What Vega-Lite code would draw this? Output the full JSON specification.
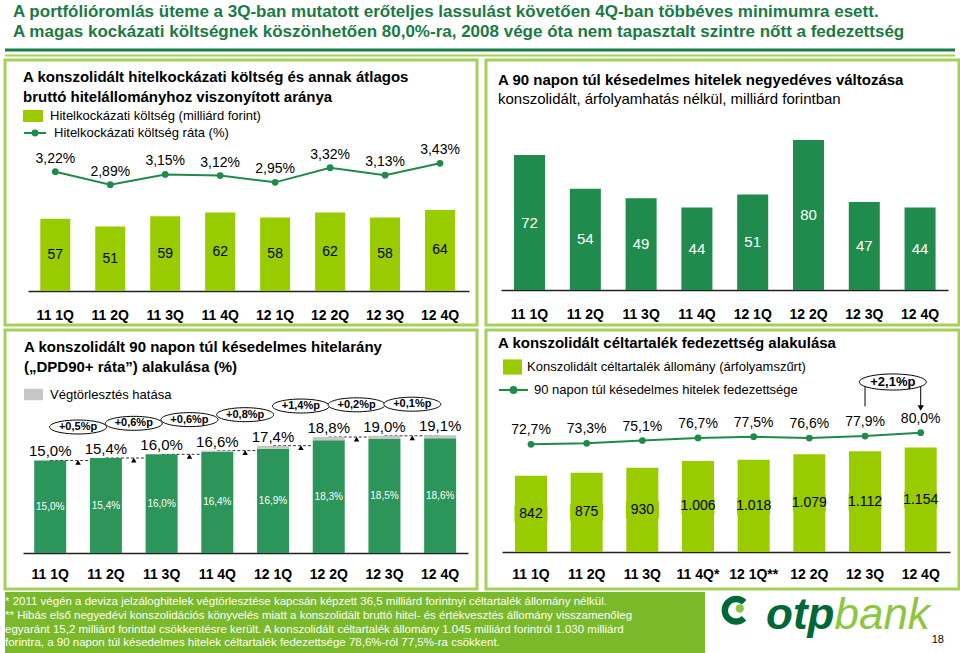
{
  "$schema": "https://vega.github.io/schema/vega-lite/v6.json",
  "padding": {"left": 3, "top": 0, "right": 2, "bottom": 0},
  "background": "white",
  "config": {
    "locale": {"number": {"decimal": ",", "thousands": ".", "grouping": [3], "currency": ["", "%"]}},
    "view": {"stroke": "#a5d05a", "strokeWidth": 3},
    "font": "Liberation Sans",
    "legend": {"padding": 0, "labelFont": "Liberation Sans", "labelColor": "#000", "labelLimit": 0, "title": null},
    "axis": {"labelFont": "Liberation Sans"}
  },
  "spacing": 1,
  "resolve": {"scale": {"color": "independent", "stroke": "independent"}, "legend": {"color": "independent", "stroke": "independent"}},
  "vconcat": [
    {
      "width": 950, "height": 57,
      "view": {"stroke": null},
      "title": {"text": ["A portfólióromlás üteme a 3Q-ban mutatott erőteljes lassulást követően 4Q-ban többéves minimumra esett.", "A magas kockázati költségnek köszönhetően 80,0%-ra, 2008 vége óta nem tapasztalt szintre nőtt a fedezettség"], "anchor": "start", "frame": "group", "offset": -41, "dx": 8, "font": "Liberation Sans", "fontSize": 17, "fontWeight": "bold", "color": "#1a7a45", "lineHeight": 20},
      "data": {"values": [{"k": 1}]},
      "layer": [
        {"mark": {"type": "rule", "color": "#1b7c4b", "strokeWidth": 3}, "encoding": {"y": {"datum": 50, "type": "quantitative", "scale": {"domain": [0, 57], "range": [0, 57], "nice": false, "zero": false}, "axis": null}}},
        {"mark": {"type": "rule", "color": "#a6d34f", "strokeWidth": 2}, "encoding": {"y": {"datum": 55.5, "type": "quantitative", "scale": {"domain": [0, 57], "range": [0, 57], "nice": false, "zero": false}, "axis": null}}}
      ]
    },
    {
      "hconcat": [
        {
          "width": 472, "height": 265,
          "title": {"text": ["A konszolidált hitelkockázati költség és annak átlagos", "bruttó hitelállományhoz viszonyított aránya"], "anchor": "start", "frame": "group", "offset": -44.5, "dx": 18, "fontSize": 15, "fontWeight": "bold", "color": "#000", "lineHeight": 20, "font": "Liberation Sans"},
          "data": {"values": [
            {"q": "11 1Q", "cost": 57, "rate": 3.22},
            {"q": "11 2Q", "cost": 51, "rate": 2.89},
            {"q": "11 3Q", "cost": 59, "rate": 3.15},
            {"q": "11 4Q", "cost": 62, "rate": 3.12},
            {"q": "12 1Q", "cost": 58, "rate": 2.95},
            {"q": "12 2Q", "cost": 62, "rate": 3.32},
            {"q": "12 3Q", "cost": 58, "rate": 3.13},
            {"q": "12 4Q", "cost": 64, "rate": 3.43}
          ]},
          "encoding": {"x": {"field": "q", "type": "nominal", "scale": {"domain": ["11 1Q", "11 2Q", "11 3Q", "11 4Q", "12 1Q", "12 2Q", "12 3Q", "12 4Q"], "range": [23, 464], "paddingInner": 0.454, "paddingOuter": 0.239, "align": 0.468}, "axis": {"title": null, "orient": "bottom", "offset": -34, "domain": true, "domainColor": "#222", "domainWidth": 1.5, "ticks": false, "grid": false, "labelAngle": 0, "labelFontSize": 14, "labelFontWeight": "bold", "labelColor": "#000", "labelPadding": 17}}},
          "layer": [
            {"mark": {"type": "bar"}, "encoding": {
              "y": {"field": "cost", "type": "quantitative", "scale": {"domain": [-26.9, 182.6], "nice": false, "zero": false}, "axis": null},
              "y2": {"datum": 0},
              "color": {"datum": "Hitelkockázati költség (milliárd forint)", "scale": {"range": ["#99cc00"]}, "legend": {"orient": "none", "legendX": 18, "legendY": 46, "symbolType": "M-1,-0.6H1V0.6H-1Z", "symbolSize": 400, "symbolStrokeWidth": 0, "labelFontSize": 13, "labelOffset": 7}}}},
            {"mark": {"type": "text", "baseline": "middle", "fontSize": 14, "color": "#000"}, "encoding": {
              "y": {"field": "cost", "type": "quantitative", "scale": {"domain": [-53.8, 365.2], "nice": false, "zero": false}, "axis": null},
              "text": {"field": "cost", "type": "quantitative", "format": "d"}}},
            {"mark": {"type": "line", "strokeWidth": 2}, "encoding": {
              "y": {"field": "rate", "type": "quantitative", "scale": {"domain": [-0.653, 6.04], "nice": false, "zero": false}, "axis": null},
              "stroke": {"datum": "Hitelkockázati költség ráta (%)", "scale": {"range": ["#208a4a"]}, "legend": {"orient": "none", "legendX": 18, "legendY": 61, "symbolType": "M-1,0H1M-0.22,0A0.22,0.22,0,1,1,0.22,0A0.22,0.22,0,1,1,-0.22,0Z", "symbolSize": 484, "symbolStrokeWidth": 2, "symbolFillColor": "#208a4a", "labelFontSize": 13, "labelOffset": 7, "encode": {"symbols": {"update": {"fill": {"value": "#208a4a"}}}}}}}},
            {"mark": {"type": "point", "filled": true, "color": "#208a4a", "size": 45, "opacity": 1}, "encoding": {
              "y": {"field": "rate", "type": "quantitative", "scale": {"domain": [-0.653, 6.04], "nice": false, "zero": false}, "axis": null}}},
            {"mark": {"type": "text", "baseline": "alphabetic", "dy": -9, "fontSize": 14, "color": "#000"}, "encoding": {
              "y": {"field": "rate", "type": "quantitative", "scale": {"domain": [-0.653, 6.04], "nice": false, "zero": false}, "axis": null},
              "text": {"field": "rate", "type": "quantitative", "format": "$.2f"}}}
          ],
          "resolve": {"scale": {"y": "independent"}}
        },
        {
          "width": 473, "height": 265,
          "title": {"text": "A 90 napon túl késedelmes hitelek negyedéves változása", "subtitle": "konszolidált, árfolyamhatás nélkül, milliárd forintban", "anchor": "start", "frame": "group", "offset": -46.5, "dx": 12, "fontSize": 15, "fontWeight": "bold", "color": "#000", "font": "Liberation Sans", "subtitleFont": "Liberation Sans", "subtitleFontSize": 15, "subtitleColor": "#000", "subtitleFontWeight": "normal", "subtitlePadding": 4},
          "data": {"values": [
            {"q": "11 1Q", "npl": 72},
            {"q": "11 2Q", "npl": 54},
            {"q": "11 3Q", "npl": 49},
            {"q": "11 4Q", "npl": 44},
            {"q": "12 1Q", "npl": 51},
            {"q": "12 2Q", "npl": 80},
            {"q": "12 3Q", "npl": 47},
            {"q": "12 4Q", "npl": 44}
          ]},
          "encoding": {"x": {"field": "q", "type": "nominal", "scale": {"domain": ["11 1Q", "11 2Q", "11 3Q", "11 4Q", "12 1Q", "12 2Q", "12 3Q", "12 4Q"], "range": [15, 462], "paddingInner": 0.444, "paddingOuter": 0.228, "align": 0.512}, "axis": {"title": null, "orient": "bottom", "offset": -35, "domain": true, "domainColor": "#222", "domainWidth": 1.5, "ticks": false, "grid": false, "labelAngle": 0, "labelFontSize": 14, "labelFontWeight": "bold", "labelColor": "#000", "labelPadding": 17}}},
          "layer": [
            {"mark": {"type": "bar", "color": "#1f8b4c"}, "encoding": {
              "y": {"field": "npl", "type": "quantitative", "scale": {"domain": [-18.67, 122.7], "nice": false, "zero": false}, "axis": null},
              "y2": {"datum": 0}}},
            {"mark": {"type": "text", "baseline": "middle", "fontSize": 15, "color": "#ffffff"}, "encoding": {
              "y": {"field": "npl", "type": "quantitative", "scale": {"domain": [-37.33, 245.4], "nice": false, "zero": false}, "axis": null},
              "text": {"field": "npl", "type": "quantitative", "format": "d"}}}
          ],
          "resolve": {"scale": {"y": "independent"}}
        }
      ],
      "spacing": 5,
      "resolve": {"scale": {"color": "independent", "stroke": "independent"}, "legend": {"color": "independent", "stroke": "independent"}}
    },
    {
      "hconcat": [
        {
          "width": 472, "height": 259,
          "title": {"text": ["A konszolidált 90 napon túl késedelmes hitelarány", "(„DPD90+ ráta”) alakulása (%)"], "anchor": "start", "frame": "group", "offset": -44.5, "dx": 19, "fontSize": 15, "fontWeight": "bold", "color": "#000", "lineHeight": 20, "font": "Liberation Sans"},
          "encoding": {"x": {"field": "q", "type": "nominal", "scale": {"domain": ["11 1Q", "11 2Q", "11 3Q", "11 4Q", "12 1Q", "12 2Q", "12 3Q", "12 4Q"], "range": [18, 463], "paddingInner": 0.4256, "paddingOuter": 0.207, "align": 0.486}, "axis": {"title": null, "orient": "bottom", "offset": -36, "domain": true, "domainColor": "#222", "domainWidth": 1.5, "ticks": false, "grid": false, "labelAngle": 0, "labelFontSize": 14, "labelFontWeight": "bold", "labelColor": "#000", "labelPadding": 14}}},
          "layer": [
            {"data": {"name": "links", "values": [
              {"q": "11 1Q", "q2": "11 2Q", "prev": 15.0, "next": 15.4, "label": "+0,5%p"},
              {"q": "11 2Q", "q2": "11 3Q", "prev": 15.4, "next": 16.0, "label": "+0,6%p"},
              {"q": "11 3Q", "q2": "11 4Q", "prev": 16.0, "next": 16.6, "label": "+0,6%p"},
              {"q": "11 4Q", "q2": "12 1Q", "prev": 16.6, "next": 17.4, "label": "+0,8%p"},
              {"q": "12 1Q", "q2": "12 2Q", "prev": 17.4, "next": 18.8, "label": "+1,4%p"},
              {"q": "12 2Q", "q2": "12 3Q", "prev": 18.8, "next": 19.0, "label": "+0,2%p"},
              {"q": "12 3Q", "q2": "12 4Q", "prev": 19.0, "next": 19.1, "label": "+0,1%p"}
            ]},
             "mark": {"type": "rule", "color": "#333", "strokeWidth": 1, "strokeDash": [3, 2]}, "encoding": {
              "x2": {"field": "q2"},
              "y": {"field": "prev", "type": "quantitative", "scale": {"domain": [-5.83, 36.15], "nice": false, "zero": false}, "axis": null}}},
            {"data": {"name": "bars", "values": [
              {"q": "11 1Q", "base": 15.0, "total": 15.0},
              {"q": "11 2Q", "base": 15.4, "total": 15.4},
              {"q": "11 3Q", "base": 16.0, "total": 16.0},
              {"q": "11 4Q", "base": 16.4, "total": 16.6},
              {"q": "12 1Q", "base": 16.9, "total": 17.4},
              {"q": "12 2Q", "base": 18.3, "total": 18.8},
              {"q": "12 3Q", "base": 18.5, "total": 19.0},
              {"q": "12 4Q", "base": 18.6, "total": 19.1}
            ]},
             "mark": {"type": "bar", "color": "#2c955a"}, "encoding": {
              "y": {"field": "base", "type": "quantitative", "scale": {"domain": [-5.83, 36.15], "nice": false, "zero": false}, "axis": null},
              "y2": {"datum": 0}}},
            {"data": {"name": "bars"}, "mark": {"type": "bar"}, "encoding": {
              "y": {"field": "total", "type": "quantitative", "scale": {"domain": [-5.83, 36.15], "nice": false, "zero": false}, "axis": null},
              "y2": {"field": "base"},
              "color": {"datum": "Végtörlesztés hatása", "scale": {"range": ["#c6c6c6"]}, "legend": {"orient": "none", "legendX": 19, "legendY": 55, "symbolType": "M-1,-0.6H1V0.6H-1Z", "symbolSize": 361, "symbolStrokeWidth": 0, "labelFontSize": 13, "labelOffset": 7}}}},
            {"data": {"name": "bars"}, "mark": {"type": "text", "baseline": "middle", "fontSize": 10, "color": "#ffffff"}, "encoding": {
              "y": {"field": "base", "type": "quantitative", "scale": {"domain": [-11.66, 72.3], "nice": false, "zero": false}, "axis": null},
              "text": {"field": "base", "type": "quantitative", "format": "$.1f"}}},
            {"data": {"name": "bars"}, "mark": {"type": "text", "baseline": "alphabetic", "dy": -4, "fontSize": 15, "color": "#000"}, "encoding": {
              "y": {"field": "total", "type": "quantitative", "scale": {"domain": [-5.83, 36.15], "nice": false, "zero": false}, "axis": null},
              "text": {"field": "total", "type": "quantitative", "format": "$.1f"}}},
            {"data": {"name": "links"}, "mark": {"type": "point", "shape": "triangle-up", "filled": true, "color": "#000", "size": 30, "opacity": 1, "xOffset": 27.85, "yOffset": 2}, "encoding": {
              "y": {"field": "prev", "type": "quantitative", "scale": {"domain": [-5.83, 36.15], "nice": false, "zero": false}, "axis": null}}},
            {"data": {"name": "links"}, "mark": {"type": "point", "shape": "M-1,0A1,0.245,0,1,0,1,0A1,0.245,0,1,0,-1,0Z", "filled": true, "fill": "#fff", "stroke": "#000", "strokeWidth": 1, "size": 3249, "opacity": 1, "xOffset": 27.85, "yOffset": -31}, "encoding": {
              "y": {"field": "next", "type": "quantitative", "scale": {"domain": [-5.83, 36.15], "nice": false, "zero": false}, "axis": null}}},
            {"data": {"name": "links"}, "mark": {"type": "text", "baseline": "middle", "fontSize": 11, "fontWeight": "bold", "color": "#000", "xOffset": 27.85, "yOffset": -31}, "encoding": {
              "y": {"field": "next", "type": "quantitative", "scale": {"domain": [-5.83, 36.15], "nice": false, "zero": false}, "axis": null},
              "text": {"field": "label"}}}
          ],
          "resolve": {"scale": {"y": "independent"}}
        },
        {
          "width": 473, "height": 259,
          "title": {"text": "A konszolidált céltartalék fedezettség alakulása", "anchor": "start", "frame": "group", "offset": -20.5, "dx": 12, "fontSize": 15, "fontWeight": "bold", "color": "#000", "font": "Liberation Sans"},
          "encoding": {"x": {"field": "q", "type": "nominal", "scale": {"domain": ["11 1Q", "11 2Q", "11 3Q", "11 4Q*", "12 1Q**", "12 2Q", "12 3Q", "12 4Q"], "range": [16, 464], "paddingInner": 0.425, "paddingOuter": 0.236, "align": 0.494}, "axis": {"title": null, "orient": "bottom", "offset": -37, "domain": true, "domainColor": "#222", "domainWidth": 1.5, "ticks": false, "grid": false, "labelAngle": 0, "labelFontSize": 14, "labelFontWeight": "bold", "labelColor": "#000", "labelPadding": 15}}},
          "layer": [
            {"data": {"name": "cov", "values": [
              {"q": "11 1Q", "prov": 842, "cov": 72.7},
              {"q": "11 2Q", "prov": 875, "cov": 73.3},
              {"q": "11 3Q", "prov": 930, "cov": 75.1},
              {"q": "11 4Q*", "prov": 1006, "cov": 76.7},
              {"q": "12 1Q**", "prov": 1018, "cov": 77.5},
              {"q": "12 2Q", "prov": 1079, "cov": 76.6},
              {"q": "12 3Q", "prov": 1112, "cov": 77.9},
              {"q": "12 4Q", "prov": 1154, "cov": 80.0}
            ]},
             "mark": {"type": "bar"}, "encoding": {
              "y": {"field": "prov", "type": "quantitative", "scale": {"domain": [-409, 2453], "nice": false, "zero": false}, "axis": null},
              "y2": {"datum": 0},
              "color": {"datum": "Konszolidált céltartalék állomány (árfolyamszűrt)", "scale": {"range": ["#99cc00"]}, "legend": {"orient": "none", "legendX": 17, "legendY": 27.5, "symbolType": "M-1,-0.8H1V0.8H-1Z", "symbolSize": 361, "symbolStrokeWidth": 0, "labelFontSize": 13, "labelOffset": 5}}}},
            {"data": {"name": "cov"}, "mark": {"type": "point", "shape": "M-1,-0.5H1V0.5H-1Z", "filled": true, "color": "#99cc00", "size": 1089, "opacity": 1}, "encoding": {
              "y": {"field": "prov", "type": "quantitative", "scale": {"domain": [-818, 4906], "nice": false, "zero": false}, "axis": null}}},
            {"data": {"name": "cov"}, "mark": {"type": "text", "baseline": "middle", "fontSize": 14, "color": "#000"}, "encoding": {
              "y": {"field": "prov", "type": "quantitative", "scale": {"domain": [-818, 4906], "nice": false, "zero": false}, "axis": null},
              "text": {"field": "prov", "type": "quantitative", "format": ",d"}}},
            {"data": {"name": "cov"}, "mark": {"type": "line", "strokeWidth": 2}, "encoding": {
              "y": {"field": "cov", "type": "quantitative", "scale": {"domain": [-18.3, 144.6], "nice": false, "zero": false}, "axis": null},
              "stroke": {"datum": "90 napon túl késedelmes hitelek fedezettsége", "scale": {"range": ["#208a4a"]}, "legend": {"orient": "none", "legendX": 12, "legendY": 44.5, "symbolType": "M-1,0H1M-0.2,0A0.2,0.2,0,1,1,0.2,0A0.2,0.2,0,1,1,-0.2,0Z", "symbolSize": 841, "symbolStrokeWidth": 2, "symbolFillColor": "#208a4a", "labelFontSize": 13, "labelOffset": 5, "encode": {"symbols": {"update": {"fill": {"value": "#208a4a"}}}}}}}},
            {"data": {"name": "cov"}, "mark": {"type": "point", "filled": true, "color": "#208a4a", "size": 45, "opacity": 1}, "encoding": {
              "y": {"field": "cov", "type": "quantitative", "scale": {"domain": [-18.3, 144.6], "nice": false, "zero": false}, "axis": null}}},
            {"data": {"name": "cov"}, "mark": {"type": "text", "baseline": "alphabetic", "dy": -10, "fontSize": 14, "color": "#000"}, "encoding": {
              "y": {"field": "cov", "type": "quantitative", "scale": {"domain": [-18.3, 144.6], "nice": false, "zero": false}, "axis": null},
              "text": {"field": "cov", "type": "quantitative", "format": "$.1f"}}},
            {"data": {"values": [{"q": "12 3Q"}, {"q": "12 4Q"}]}, "mark": {"type": "rule", "color": "#000", "strokeWidth": 1}, "encoding": {
              "y": {"datum": 96.5, "type": "quantitative", "scale": {"domain": [-18.3, 144.6], "nice": false, "zero": false}, "axis": null},
              "y2": {"datum": 111.9}}},
            {"data": {"values": [{"q": "12 4Q"}]}, "mark": {"type": "point", "shape": "triangle-down", "filled": true, "color": "#000", "size": 40, "opacity": 1}, "encoding": {
              "y": {"datum": 95.5, "type": "quantitative", "scale": {"domain": [-18.3, 144.6], "nice": false, "zero": false}, "axis": null}}},
            {"data": {"name": "note", "values": [{"q": "12 3Q", "label": "+2,1%p"}]}, "mark": {"type": "point", "shape": "M-1,0A1,0.24,0,1,0,1,0A1,0.24,0,1,0,-1,0Z", "filled": true, "fill": "#fff", "stroke": "#000", "strokeWidth": 1, "size": 4489, "opacity": 1, "xOffset": 27.8}, "encoding": {
              "y": {"datum": 111.9, "type": "quantitative", "scale": {"domain": [-18.3, 144.6], "nice": false, "zero": false}, "axis": null}}},
            {"data": {"name": "note"}, "mark": {"type": "text", "baseline": "middle", "fontSize": 13, "fontWeight": "bold", "color": "#000", "xOffset": 27.8}, "encoding": {
              "y": {"datum": 111.9, "type": "quantitative", "scale": {"domain": [-18.3, 144.6], "nice": false, "zero": false}, "axis": null},
              "text": {"field": "label"}}}
          ],
          "resolve": {"scale": {"y": "independent"}}
        }
      ],
      "spacing": 5,
      "resolve": {"scale": {"color": "independent", "stroke": "independent"}, "legend": {"color": "independent", "stroke": "independent"}}
    },
    {
      "hconcat": [
        {
          "width": 700, "height": 61,
          "view": {"fill": "#7ab929", "stroke": null},
          "title": {"text": ["* 2011 végén a deviza jelzáloghitelek végtörlesztése kapcsán képzett 36,5 milliárd forintnyi céltartalék állomány nélkül.", "** Hibás első negyedévi konszolidációs könyvelés miatt a konszolidált bruttó hitel- és értékvesztés állomány visszamenőleg", "egyaránt 15,2 milliárd forinttal csökkentésre került. A konszolidált céltartalék állomány 1.045 milliárd forintról 1.030 milliárd", "forintra, a 90 napon túl késedelmes hitelek céltartalék fedezettsége 78,6%-ról 77,5%-ra csökkent."], "anchor": "start", "frame": "group", "offset": -57, "dx": 0, "font": "Liberation Sans", "fontSize": 11.5, "fontWeight": "normal", "color": "#ffffff", "lineHeight": 13.8},
          "data": {"values": [{"k": 1}]},
          "mark": {"type": "text", "text": ""},
          "encoding": {}
        },
        {
          "width": 246, "height": 61,
          "view": {"stroke": null},
          "data": {"values": [{"k": 1}]},
          "layer": [
            {"mark": {"type": "point", "shape": "M0.71,-0.71A1,1,0,1,0,0.71,0.71L0.39,0.39A0.55,0.55,0,1,1,0.39,-0.39Z", "filled": true, "color": "#006838", "size": 841, "opacity": 1}, "encoding": {
              "x": {"datum": 0.11, "type": "quantitative", "scale": {"domain": [0, 1], "nice": false, "zero": false}, "axis": null},
              "y": {"datum": 0.3, "type": "quantitative", "scale": {"domain": [0, 1], "nice": false, "zero": false, "reverse": true}, "axis": null}}},
            {"mark": {"type": "point", "shape": "circle", "filled": true, "color": "#8dc63f", "size": 70, "opacity": 1}, "encoding": {
              "x": {"datum": 0.125, "type": "quantitative", "scale": {"domain": [0, 1], "nice": false, "zero": false}, "axis": null},
              "y": {"datum": 0.27, "type": "quantitative", "scale": {"domain": [0, 1], "nice": false, "zero": false, "reverse": true}, "axis": null}}},
            {"mark": {"type": "text", "text": "otp", "align": "right", "baseline": "alphabetic", "fontSize": 44, "fontStyle": "italic", "fontWeight": "bold", "color": "#006838"}, "encoding": {
              "x": {"datum": 0.51, "type": "quantitative", "scale": {"domain": [0, 1], "nice": false, "zero": false}, "axis": null},
              "y": {"datum": 0.6, "type": "quantitative", "scale": {"domain": [0, 1], "nice": false, "zero": false, "reverse": true}, "axis": null}}},
            {"mark": {"type": "text", "text": "bank", "align": "left", "baseline": "alphabetic", "fontSize": 44, "fontStyle": "italic", "fontWeight": "normal", "color": "#8dc63f"}, "encoding": {
              "x": {"datum": 0.51, "type": "quantitative", "scale": {"domain": [0, 1], "nice": false, "zero": false}, "axis": null},
              "y": {"datum": 0.6, "type": "quantitative", "scale": {"domain": [0, 1], "nice": false, "zero": false, "reverse": true}, "axis": null}}},
            {"mark": {"type": "text", "text": "18", "align": "center", "baseline": "middle", "fontSize": 11, "color": "#000"}, "encoding": {
              "x": {"datum": 0.93, "type": "quantitative", "scale": {"domain": [0, 1], "nice": false, "zero": false}, "axis": null},
              "y": {"datum": 0.78, "type": "quantitative", "scale": {"domain": [0, 1], "nice": false, "zero": false, "reverse": true}, "axis": null}}}
          ]
        }
      ],
      "spacing": 4
    }
  ]
}
